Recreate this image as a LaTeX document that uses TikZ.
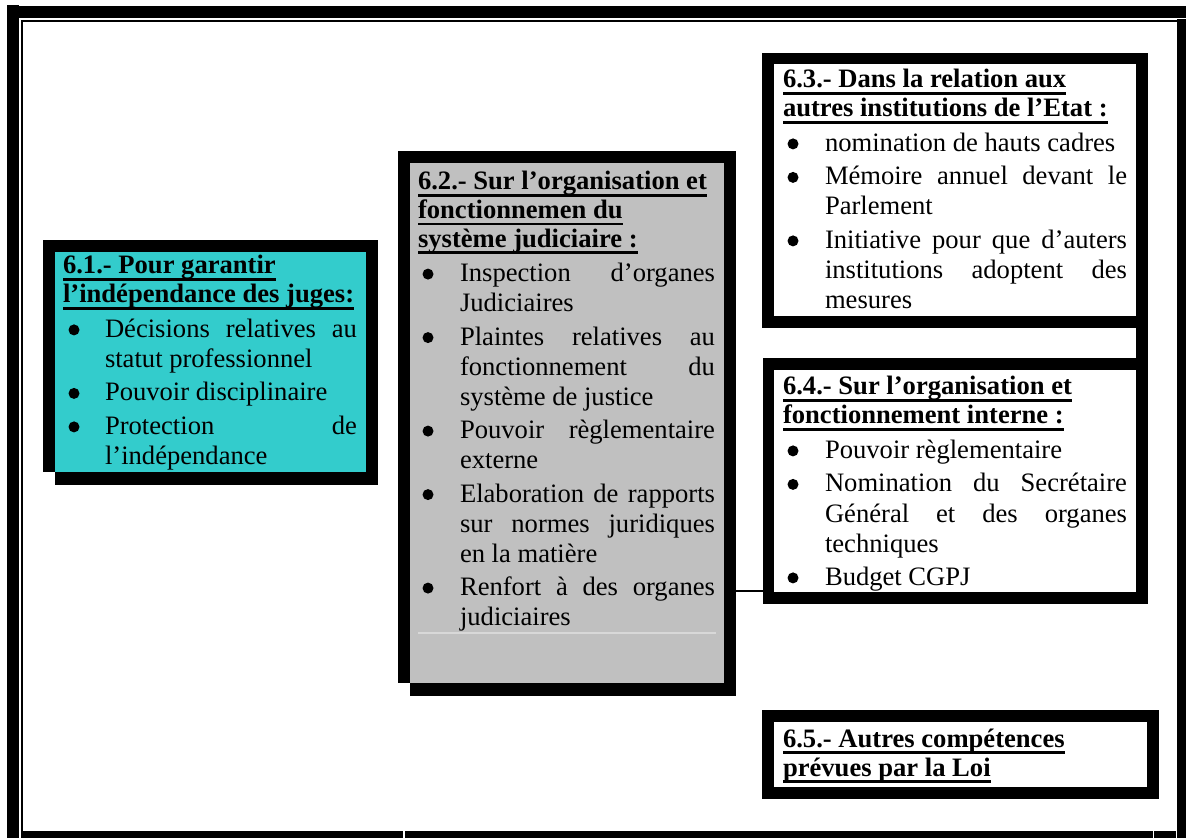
\documentclass[tikz,border=0pt]{standalone}
\usepackage{fontspec}
\setmainfont{Liberation Serif}
\usetikzlibrary{fit}
\definecolor{boxcyan}{HTML}{33CCCC}
\definecolor{boxgray}{HTML}{C0C0C0}
\definecolor{faintline}{HTML}{D8D8D8}
\newdimen\TI \newdimen\BC \newdimen\TW \newdimen\IS
\IS=1.75pt
\newsavebox\ttlbox
\newcommand\ttl[1]{\hbox{\bfseries\sbox\ttlbox{#1}\rlap{\rule[-3.4pt]{\wd\ttlbox}{1.4pt}}\usebox\ttlbox}}
\newcommand\bdot{\tikz[x=1pt,y=1pt,baseline=0pt]{\fill[black] (0,3.8) circle[radius=2.75pt];}}
\newcommand\bul{\makebox[0pt][l]{\hspace*{\BC}\makebox[0pt]{\bdot}}}
\newcommand\jl[1]{\hbox{\hspace*{\TI}\makebox[\TW][s]{#1}}}
\newcommand\rl[1]{\hbox{\hspace*{\TI}#1}}
\newcommand\bjl[1]{\vskip\IS\hbox{\bul\hspace*{\TI}\makebox[\TW][s]{#1}}}
\newcommand\brl[1]{\vskip\IS\hbox{\bul\hspace*{\TI}#1}}
\newcommand\tobul{\baselineskip=15pt\vskip0.5pt}
\begin{document}
\begin{tikzpicture}[x=0.5pt,y=-0.5pt,
  font=\fontsize{13.3pt}{15pt}\selectfont,
  ink/.style={fill=black},
  frame/.style={inner sep=0pt, outer sep=0pt, fill=black},
  inner/.style={inner sep=0pt, outer sep=0pt},
  txt/.style={anchor=base west, inner sep=0pt, outer sep=0pt},
  conn/.style={draw=black, line width=1.3pt},
  band/.style={draw=black, line width=6pt}]
\useasboundingbox (0,0) rectangle (1186,838);
% page border (thick-thin)
\fill[ink] (7,5) rectangle (19,838);
\fill[ink] (7,6) rectangle (1186,18);
\fill[ink] (21,20) rectangle (23,838);
\fill[ink] (21,20) rectangle (1177,22);
\fill[ink] (1177,19) rectangle (1186,838);
\fill[ink] (21,831) rectangle (403,838);
\fill[ink] (405,831) rectangle (1153,838);
\fill[ink] (1154,831) rectangle (1176,838);

% connectors
\coordinate (cy) at (0,591);

% box 6.1
\node[frame, fit={(43,240) (378,472)}] (f61) {};
\fill[ink] (55,252) rectangle (378,485);
\node[inner, fill=boxcyan, fit={(55,252) (366,472)}] (b61) {};
% box 6.2
\node[frame, fit={(398,151) (736,683)}] (f62) {};
\fill[ink] (410,163) rectangle (736,696);
\node[inner, fill=boxgray, fit={(410,163) (724,683)}] (b62) {};
\draw[faintline, line width=0.6pt] (418,633) -- (716,633);
% box 6.3
\node[frame, fit={(762,53) (1148,328)}] (f63) {};
\node[inner, fill=white, fit={(774,64) (1136,316)}] (b63) {};
% box 6.4
\node[frame, fit={(763,358) (1148,604)}] (f64) {};
\node[inner, fill=white, fit={(774,370) (1136,592)}] (b64) {};
% box 6.5
\node[frame, fit={(762,710) (1159,799)}] (f65) {};
\node[inner, fill=white, fit={(774,722) (1147,787)}] (b65) {};

\draw[conn] (f62.east |- cy) -- (f64.west |- cy);
\draw[band] ([xshift=-3pt]f63.south east) -- ([xshift=-3pt]f64.north east);

% texts
\node[txt] (t61) at (63,274) {\vtop{\lineskiplimit=-\maxdimen
  \baselineskip=14.5pt \TI=21pt \BC=5.5pt \TW=126pt
  \ttl{6.1.- Pour garantir}
  \ttl{l’indépendance des juges:}
  \tobul
  \bjl{Décisions relatives au}
  \rl{statut professionnel}
  \brl{Pouvoir disciplinaire}
  \bjl{Protection de}
  \rl{l’indépendance}}};

\node[txt] (t62) at (418,190) {\vtop{\lineskiplimit=-\maxdimen
  \baselineskip=14.3pt \TI=21pt \BC=5pt \TW=127.5pt
  \ttl{6.2.- Sur l’organisation et}
  \ttl{fonctionnemen du}
  \ttl{système judiciaire :}
  \tobul
  \bjl{Inspection d’organes}
  \rl{Judiciaires}
  \bjl{Plaintes relatives au}
  \jl{fonctionnement du}
  \rl{système de justice}
  \bjl{Pouvoir règlementaire}
  \rl{externe}
  \bjl{Elaboration de rapports}
  \jl{sur normes juridiques}
  \rl{en la matière}
  \bjl{Renfort à des organes}
  \rl{judiciaires}}};

\node[txt] (t63) at (783,88) {\vtop{\lineskiplimit=-\maxdimen
  \baselineskip=14.5pt \TI=21pt \BC=5pt \TW=151pt
  \ttl{6.3.- Dans la relation aux}
  \ttl{autres institutions de l’Etat :}
  \tobul
  \brl{nomination de hauts cadres}
  \bjl{Mémoire annuel devant le}
  \rl{Parlement}
  \bjl{Initiative pour que d’auters}
  \jl{institutions adoptent des}
  \rl{mesures}}};

\node[txt] (t64) at (783,395) {\vtop{\lineskiplimit=-\maxdimen
  \baselineskip=14.5pt \TI=21pt \BC=5pt \TW=151pt
  \ttl{6.4.- Sur l’organisation et}
  \ttl{fonctionnement interne :}
  \tobul
  \brl{Pouvoir règlementaire}
  \bjl{Nomination du Secrétaire}
  \jl{Général et des organes}
  \rl{techniques}
  \brl{Budget CGPJ}}};

\node[txt] (t65) at (783,747) {\vtop{\lineskiplimit=-\maxdimen
  \baselineskip=14.5pt
  \ttl{6.5.- Autres compétences}
  \ttl{prévues par la Loi}}};
\end{tikzpicture}
\end{document}
